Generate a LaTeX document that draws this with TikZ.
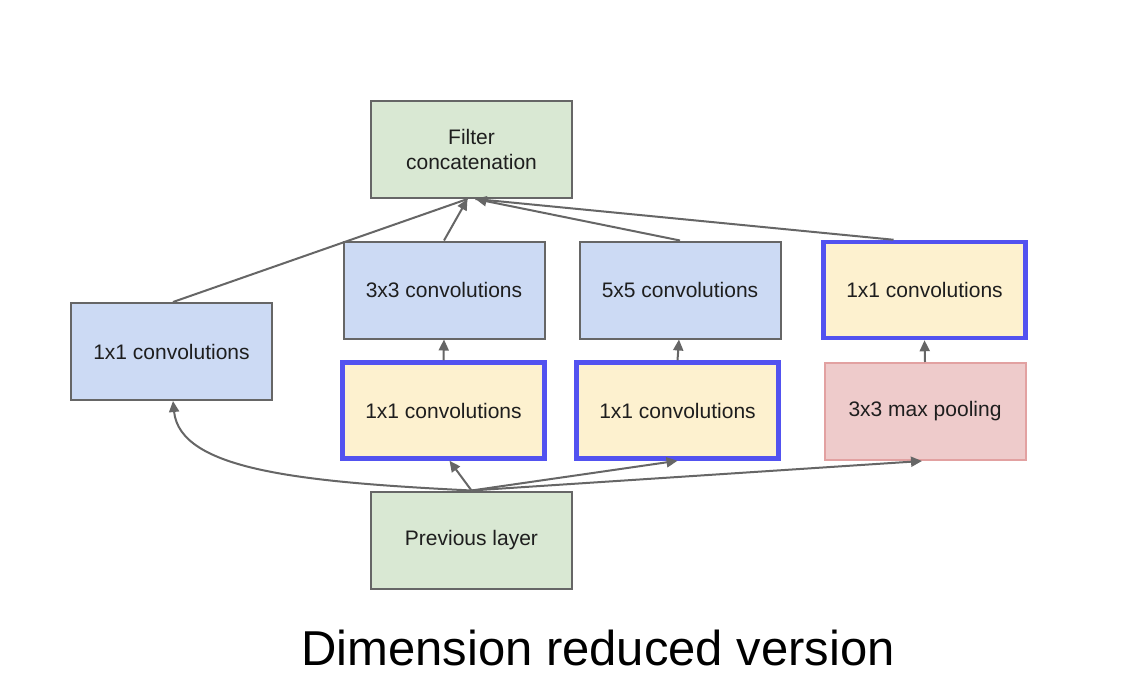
\documentclass[tikz,border=0pt]{standalone}
\usepackage{fontspec}
\setmainfont{Liberation Sans}
\usetikzlibrary{arrows.meta}
\definecolor{bfill}{HTML}{CCDAF4}
\definecolor{gfill}{HTML}{D9E8D3}
\definecolor{yfill}{HTML}{FDF1CF}
\definecolor{pfill}{HTML}{EECBCB}
\definecolor{pdraw}{HTML}{E2A1A1}
\definecolor{gline}{HTML}{666666}
\definecolor{hblue}{HTML}{5252F0}
\definecolor{tcol}{HTML}{1E1E1E}
\tikzset{
  box/.style={rectangle, draw=gline, line width=2pt, minimum width=201pt, minimum height=97pt,
    inner sep=0pt, align=center, text=tcol, font=\fontsize{21}{25.5}\selectfont},
  bluebox/.style={box, fill=bfill},
  greenbox/.style={box, fill=gfill},
  redbox/.style={box, fill=yfill, draw=hblue, line width=4.5pt, minimum width=202pt, minimum height=96pt},
  poolbox/.style={box, fill=pfill, draw=pdraw},
  arr/.style={draw=gline, line width=2pt, -{Triangle[length=11pt,width=10pt]}},
  ln/.style={draw=gline, line width=2pt}
}
\begin{document}
\begin{tikzpicture}[x=1pt,y=-1pt]
\useasboundingbox[fill=white] (0,0) rectangle (1132,698);
\node[greenbox] (concat) at (471.5,149.5) {Filter\\concatenation};
\node[bluebox] (l1) at (171.5,351.5) {1x1 convolutions};
\node[bluebox] (c3) at (444,290) {3x3 convolutions};
\node[bluebox] (c5) at (680,290) {5x5 convolutions};
\node[redbox] (p1) at (924.5,290) {1x1 convolutions};
\node[redbox] (c3r) at (443.5,410.5) {1x1 convolutions};
\node[redbox] (c5r) at (677.5,410.5) {1x1 convolutions};
\node[poolbox] (pool) at (925,411.5) {3x3 max pooling};
\node[greenbox] (prev) at (471.5,540) {Previous layer};
\node[font=\fontsize{49}{56}\selectfont, text=black] (title) at (598,648) {Dimension reduced version};
% arrows from previous layer
\draw[arr] (prev.north) .. controls (300,482) and (180,470) .. ([xshift=1.5pt]l1.south);
\draw[arr] (prev.north) -- ([xshift=6pt]c3r.south);
\draw[arr] (prev.north) -- (c5r.south);
\draw[arr] (prev.north) -- ([xshift=-3pt]pool.south);
% vertical arrows
\draw[arr] (c3r.north) -- (c3.south);
\draw[arr] (c5r.north) -- ([xshift=-1pt]c5.south);
\draw[arr] (pool.north) -- (p1.south);
% to concatenation
\draw[ln] ([xshift=1.5pt]l1.north) -- ([xshift=-4pt]concat.south);
\draw[arr] (c3.north) -- ([xshift=-4pt]concat.south);
\draw[ln] ([xshift=-31pt]p1.north) -- ([xshift=4pt]concat.south);
\draw[arr] (c5.north) -- ([xshift=4pt]concat.south);
\end{tikzpicture}
\end{document}
